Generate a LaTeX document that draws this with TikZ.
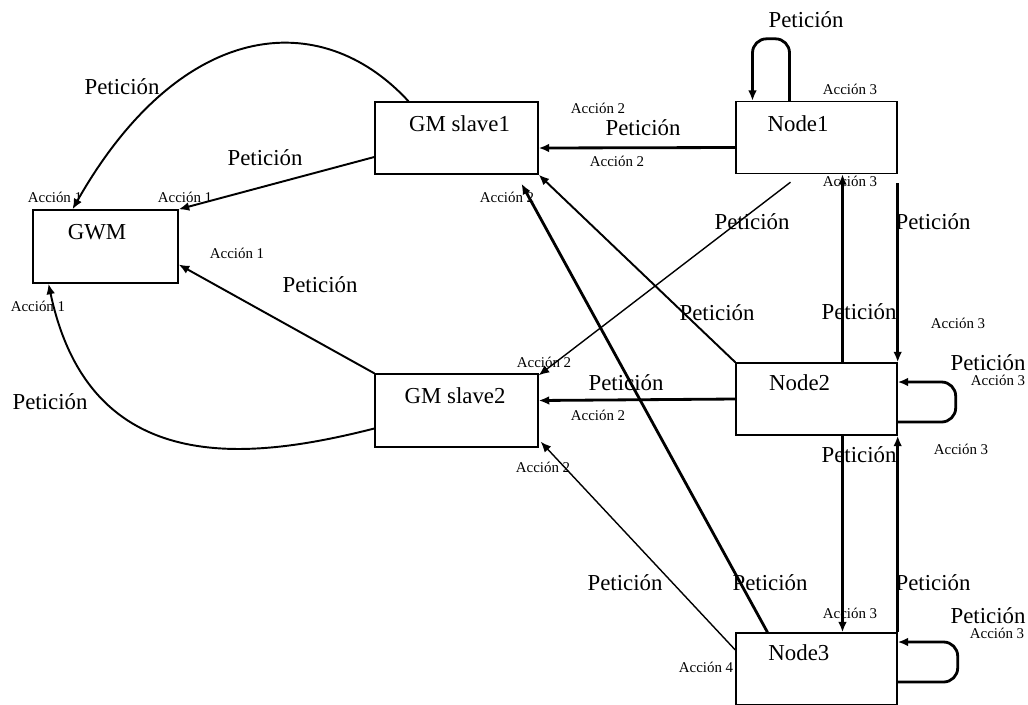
\documentclass[tikz,border=0pt]{standalone}
\usepackage{fontspec}
\setmainfont{Liberation Serif}
\usetikzlibrary{arrows.meta,calc}

\begin{document}
\begin{tikzpicture}[x=0.02cm,y=-0.02cm,
    block/.style={draw,line width=0.8pt,minimum width=3.22cm,minimum height=1.44cm},
    req/.style={font=\fontsize{13}{15}\selectfont,inner sep=1pt},
    act/.style={font=\fontsize{8.5}{10}\selectfont,inner sep=1pt},
    link/.style={-{Latex[length=6pt,width=5pt]},line width=1.1pt},
    heavy/.style={link,line width=1.6pt},
    light/.style={link,line width=0.8pt}]
  \useasboundingbox (0,0) rectangle (1028,704);
  % boxes
  \node[block,minimum width=2.9cm,minimum height=1.46cm,
    label={[req,anchor=center,xshift=-4.8pt,yshift=-13pt]north:GWM}] (gwm) at (105.5,246.5) {};
  \node[block,minimum width=3.26cm,
    label={[req,anchor=center,xshift=1.7pt,yshift=-13pt]north:GM slave1}] (gms1) at (456.5,138) {};
  \node[block,minimum width=3.26cm,minimum height=1.46cm,
    label={[req,anchor=center,xshift=-0.8pt,yshift=-13pt]north:GM slave2}] (gms2) at (456.5,410.5) {};
  \node[block,label={[req,anchor=center,xshift=-10.5pt,yshift=-13pt]north:Node1}] (node1) at (816.5,137.5) {};
  \node[block,label={[req,anchor=center,xshift=-9.6pt,yshift=-11.5pt]north:Node2}] (node2) at (816.5,399) {};
  \node[block,label={[req,anchor=center,xshift=-10pt,yshift=-11.5pt]north:Node3}] (node3) at (816.5,669) {};

  % requests towards GWM
  \draw[link] ($(gms1.west)+(0,19)$) -- (gwm.north east);
  \draw[link] ($(gms1.north)+(-48,0)$) .. controls (320,5) and (180,20) .. ($(gwm.north)+(-33,0)$);
  \draw[link] (gms2.north west) -- ($(gwm.east)+(0,18)$);
  \draw[link] ($(gms2.west)+(0,18)$) .. controls (250,460) and (90,480) .. ($(gwm.south)+(-57,0)$);

  % requests towards the slaves
  \draw[heavy] ($(node1.west)+(0,10)$) -- ($(gms1.east)+(0,10)$);
  \draw[heavy] (node2.west) -- ($(gms2.east)+(0,-10)$);
  \draw[light] ($(node1.south)+(-26,8)$) -- ($(gms2.north east)+(0,2)$);
  \draw[link] (node2.north west) -- (gms1.south east);
  \draw[heavy] ($(node3.north)+(-49,0)$) -- ($(gms1.south)+(65,9)$);
  \draw[light] ($(node3.west)+(0,-19)$) -- ($(gms2.south east)+(2,-6)$);

  % requests between nodes
  \draw[heavy] ($(node2.north)+(26,0)$) -- ($(node1.south)+(26,0)$);
  \draw[heavy] ($(node1.south east)+(0,9)$) -- (node2.north east);
  \draw[heavy] ($(node2.south)+(26,0)$) -- ($(node3.north)+(26,0)$);
  \draw[heavy] (node3.north east) -- (node2.south east);

  % self loops
  \draw[heavy,rounded corners=8pt] ($(node1.north)+(-27,0)$) -- ++(0,-62) -- ++(-37,0) -- ++(0,62);
  \draw[heavy,rounded corners=8pt] ($(node2.east)+(0,23)$) -- ++(58,0) -- ++(0,-40) -- ++(-58,0);
  \draw[heavy,rounded corners=8pt] ($(node3.east)+(0,13)$) -- ++(60,0) -- ++(0,-40) -- ++(-60,0);

  % labels
  \path
    (122,87) node[req] (p1) {Petición}
    (265,158) node[req] (p2) {Petición}
    (320,285) node[req] (p3) {Petición}
    (50,402) node[req] (p4) {Petición}
    (643,128) node[req] (p5) {Petición}
    (806,20) node[req] (p6) {Petición}
    (752,222) node[req] (p7) {Petición}
    (933,222) node[req] (p8) {Petición}
    (717,313) node[req] (p9) {Petición}
    (859,312) node[req] (p10) {Petición}
    (988,363) node[req] (p11) {Petición}
    (626,383) node[req] (p12) {Petición}
    (859,455) node[req] (p13) {Petición}
    (625,583) node[req] (p14) {Petición}
    (770,583) node[req] (p15) {Petición}
    (933,583) node[req] (p16) {Petición}
    (988,616) node[req] (p17) {Petición};
  \path
    (55,197) node[act] (a1) {Acción 1}
    (185,197) node[act] (a2) {Acción 1}
    (237,253) node[act] (a3) {Acción 1}
    (38,306) node[act] (a4) {Acción 1}
    (598,108) node[act] (a5) {Acción 2}
    (617,161) node[act] (a6) {Acción 2}
    (507,197) node[act] (a7) {Acción 2}
    (850,89) node[act] (a8) {Acción 3}
    (850,181) node[act] (a9) {Acción 3}
    (958,323) node[act] (a10) {Acción 3}
    (998,380) node[act] (a11) {Acción 3}
    (961,449) node[act] (a12) {Acción 3}
    (544,362) node[act] (a13) {Acción 2}
    (598,415) node[act] (a14) {Acción 2}
    (543,467) node[act] (a15) {Acción 2}
    (850,613) node[act] (a16) {Acción 3}
    (997,633) node[act] (a17) {Acción 3}
    (706,667) node[act] (a18) {Acción 4};
\end{tikzpicture}
\end{document}
